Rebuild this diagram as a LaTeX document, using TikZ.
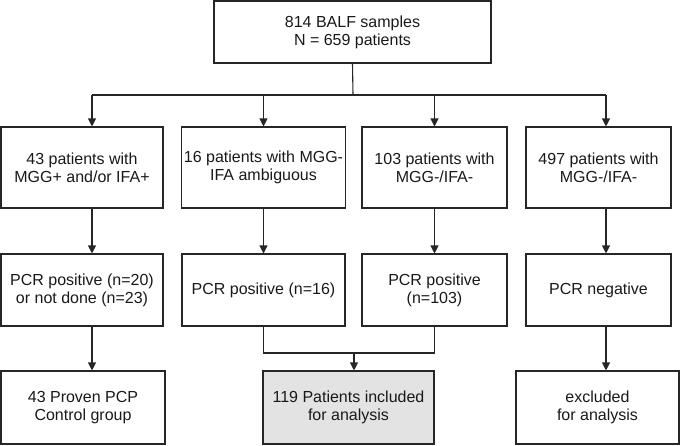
\documentclass[tikz,border=0pt]{standalone}
\usepackage{fontspec}
\setmainfont{Liberation Sans}
\usetikzlibrary{arrows.meta}

\begin{document}
\begin{tikzpicture}[x=1pt, y=-1pt,
        box/.style={draw=black!85, line width=1.1pt, rectangle, align=center,
            inner sep=2pt, font=\fontsize{16}{18}\selectfont, text=black!90},
        line/.style={draw=black!85, line width=1.1pt},
        arr/.style={line, -{Triangle[length=8pt, width=8pt]}}]
        \useasboundingbox (0,0) rectangle (680,445);

        % Samples
        \node[box, minimum width=277pt, minimum height=62pt] (top) at (352.5,32) {814 BALF samples\\N = 659 patients};

        % Microscopy groups
        \node[box, minimum width=162pt, minimum height=81pt] (a1) at (82,167.5) {43 patients with\\MGG+ and/or IFA+};
        \node[box, minimum width=163pt, minimum height=81pt] (b1) at (263.5,167.5) {16 patients with MGG-\\IFA ambiguous};
        \node[box, minimum width=145pt, minimum height=81pt] (c1) at (434.5,167.5) {103 patients with\\MGG-/IFA-};
        \node[box, minimum width=145pt, minimum height=81pt] (d1) at (598.5,167.5) {497 patients with\\MGG-/IFA-};

        % PCR results
        \node[box, minimum width=162pt, minimum height=72pt] (a2) at (82,290) {PCR positive (n=20)\\or not done (n=23)};
        \node[box, minimum width=163pt, minimum height=72pt] (b2) at (263.5,290) {PCR positive (n=16)};
        \node[box, minimum width=145pt, minimum height=72pt] (c2) at (434.5,290) {PCR positive\\(n=103)};
        \node[box, minimum width=145pt, minimum height=72pt] (d2) at (598.5,290) {PCR negative};

        % Outcome
        \node[box, minimum width=164pt, minimum height=73pt] (a3) at (83,407.5) {43 Proven PCP\\Control group};
        \node[box, minimum width=171pt, minimum height=73pt, fill=black!11] (b3) at (348.5,407.5) {119 Patients included\\for analysis};
        \node[box, minimum width=163pt, minimum height=73pt] (c3) at (597.5,407.5) {excluded\\for analysis};

        \coordinate (split) at (353,95);
        \coordinate (xa) at (92,0);
        \coordinate (xd) at (606,0);
        \coordinate (merge) at (354,353);

        % split into four groups
        \draw[line] (top.south) -- (split);
        \draw[line] (split -| xa) -- (split -| xd);
        \draw[arr] (split -| xa) -- (a1.north -| xa);
        \draw[arr] (split -| b1.north) -- (b1.north);
        \draw[arr] (split -| c1.north) -- (c1.north);
        \draw[arr] (split -| xd) -- (d1.north -| xd);

        % down the columns
        \draw[arr] (a1.south -| xa) -- (a2.north -| xa);
        \draw[arr] (b1.south) -- (b2.north);
        \draw[arr] (c1.south) -- (c2.north);
        \draw[arr] (d1.south -| xd) -- (d2.north -| xd);

        \draw[arr] (a2.south -| xa) -- (a3.north -| xa);
        \draw[arr] (d2.south -| xd) -- (c3.north -| xd);

        % merge
        \draw[line] (b2.south) -- (b2.south |- merge) -- (c2.south |- merge) -- (c2.south);
        \draw[arr] (merge) -- (b3.north -| merge);
    \end{tikzpicture}
\end{document}
